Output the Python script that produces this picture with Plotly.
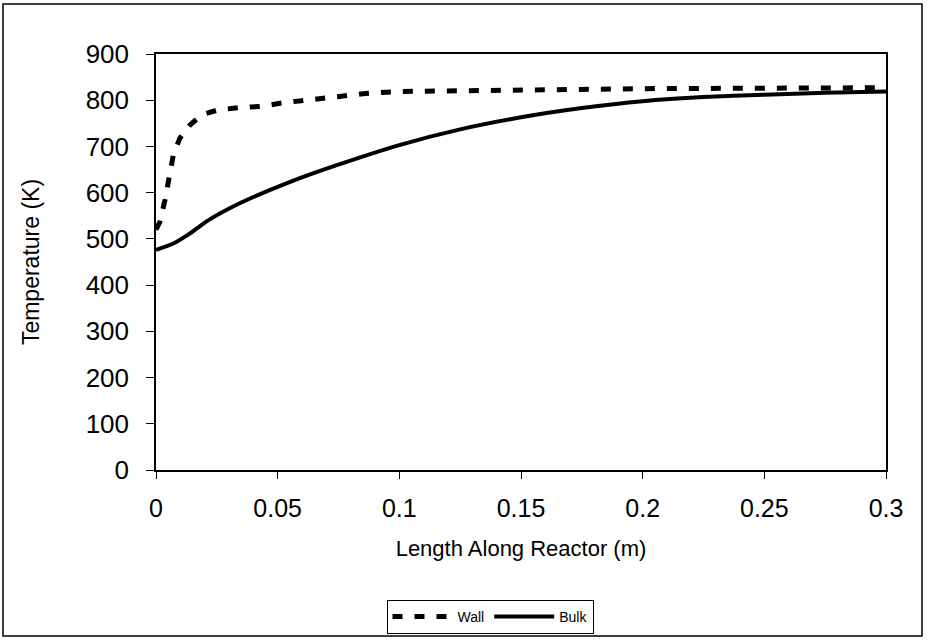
import plotly.graph_objects as go

wall_x = [0.0, 0.0016, 0.0037, 0.0054, 0.0071, 0.0098, 0.0139, 0.0187, 0.0254, 0.0344, 0.044, 0.0515,
          0.062, 0.0705, 0.085, 0.1, 0.125, 0.15, 0.2, 0.25, 0.3]
wall_y = [520, 537, 584, 634, 681, 718, 746, 768, 779, 784, 787, 794,
          801, 807, 814, 819, 821, 823, 825, 826, 827]

bulk_x = [0.0, 0.0071, 0.014, 0.0208, 0.0344, 0.0549, 0.074, 0.1, 0.125, 0.15, 0.175, 0.2, 0.225, 0.25, 0.275, 0.3]
bulk_y = [476, 490, 512, 538, 577, 623, 659, 703, 737, 763, 783, 798, 807, 812, 816, 819]

x_ticks = [0, 0.05, 0.1, 0.15, 0.2, 0.25, 0.3]
x_tick_labels = ["0", "0.05", "0.1", "0.15", "0.2", "0.25", "0.3"]
y_ticks = [0, 100, 200, 300, 400, 500, 600, 700, 800, 900]

fig = go.Figure()
fig.add_trace(go.Scatter(x=wall_x, y=wall_y, mode="lines", name="Wall",
                         line=dict(color="black", width=5, dash="10px,12px")))
fig.add_trace(go.Scatter(x=bulk_x, y=bulk_y, mode="lines", name="Bulk",
                         line=dict(color="black", width=4, shape="spline", smoothing=0.6)))

W, H = 927, 640
L, R, T, B = 156, 41, 54, 170
pw, ph = W - L - R, H - T - B

def px(x):
    return (x - L) / pw

def py(y):
    return (H - B - y) / ph

fig.add_shape(type="rect", xref="paper", yref="paper",
              x0=px(3), x1=px(922), y0=py(636), y1=py(4),
              line=dict(color="black", width=1.5))

fig.update_layout(
    width=W, height=H,
    margin=dict(l=L, r=R, t=T, b=B, autoexpand=False),
    paper_bgcolor="white", plot_bgcolor="white",
    font=dict(family="Liberation Sans, Arial, sans-serif", color="black"),
    showlegend=True,
    legend=dict(orientation="h", x=px(490), xanchor="center", y=py(634), yanchor="bottom",
                bordercolor="black", borderwidth=1, font=dict(size=14),
                itemwidth=60, tracegroupgap=0),
    xaxis=dict(range=[0, 0.3], tickvals=x_ticks, ticktext=x_tick_labels, automargin=False,
               showgrid=False, zeroline=False, showline=True, linecolor="black", linewidth=1.5,
               mirror=True, ticks="outside", ticklen=7, tickcolor="black",
               tickfont=dict(size=25), ticklabelstandoff=8,
               title=dict(text="Length Along Reactor (m)", font=dict(size=22), standoff=20)),
    yaxis=dict(range=[0, 900], tickvals=y_ticks, automargin=False,
               showgrid=False, zeroline=False, showline=True, linecolor="black", linewidth=1.5,
               mirror=True, ticks="outside", ticklen=8, tickcolor="black",
               tickfont=dict(size=26), ticklabelstandoff=12,
               title=dict(text="Temperature (K)", font=dict(size=23), standoff=40)),
)

fig.write_html("out.html", config={"displayModeBar": False},
               post_script="document.body.style.margin='0';")
